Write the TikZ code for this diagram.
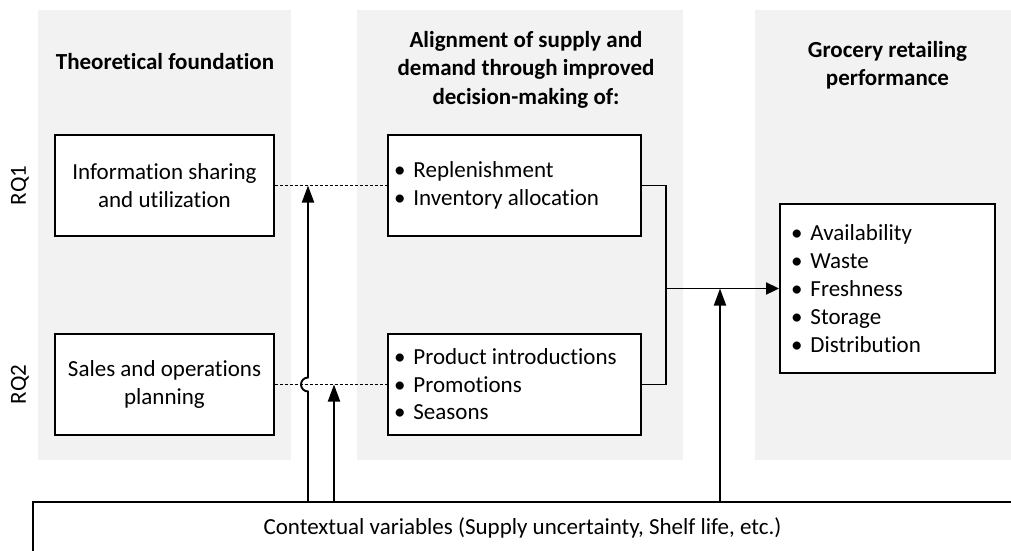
\documentclass[tikz,border=0pt]{standalone}
\usepackage{fontspec}
\setmainfont{Carlito}[Ligatures={NoCommon}]
\usetikzlibrary{arrows.meta,calc}
\definecolor{panelgray}{RGB}{242,242,242}
\newcommand{\bitem}{•\hspace{8pt}}
\begin{document}
\begin{tikzpicture}[x=1pt,y=-1pt,
  basefont/.style={font=\fontsize{23}{27.5}\selectfont},
  panel/.style={fill=panelgray, draw=none, minimum height=450pt, inner sep=0pt},
  heading/.style={font=\bfseries\fontsize{23}{28.5}\selectfont, align=center, inner sep=0pt},
  box/.style={draw=black, line width=1.9pt, fill=white, basefont, minimum height=101pt},
  conn/.style={line width=1.9pt, draw=black},
  dashconn/.style={line width=1.7pt, draw=black, dash pattern=on 3pt off 2pt},
  uparrow/.style={conn, -{Triangle[length=17pt,width=12pt]}},
  rarrow/.style={conn, -{Triangle[length=13pt,width=12pt]}},
  rq/.style={basefont, rotate=90, inner sep=0pt}
]
\useasboundingbox (0,0) rectangle (1011,550);
\clip (0,0) rectangle (1011,550);
\fill[white] (0,0) rectangle (1011,550);

% panels
\node[panel, minimum width=253pt] (p1) at (164.5,235) {};
\node[panel, minimum width=326pt] (p2) at (520,235) {};
\node[panel, minimum width=265pt] (p3) at (887.5,235) {};

% headings
\node[heading] (h1) at (165,62) {Theoretical foundation};
\node[heading] (h2) at (526,69.5) {Alignment of supply and\\demand through improved\\decision-making of:};
\node[heading] (h3) at (887.5,65) {Grocery retailing\\performance};

% RQ labels
\node[rq] (rq1) at (20,185.5) {RQ1};
\node[rq] (rq2) at (20,384.5) {RQ2};

% boxes
\node[box, minimum width=219pt, align=center] (info) at (164.5,185.5) {Information sharing\\and utilization};
\node[box, minimum width=219pt, align=center] (sop) at (164.5,384.5) {Sales and operations\\planning};
\node[box, text width=241pt, inner xsep=6pt, align=flush left] (repl) at (514.5,185.5) {\bitem Replenishment\\\bitem Inventory allocation};
\node[box, text width=241pt, inner xsep=6pt, align=flush left] (prod) at (514.5,384.5) {\bitem Product introductions\\\bitem Promotions\\\bitem Seasons};
\node[box, text width=193pt, inner xsep=11pt, minimum height=169pt, align=flush left, font=\fontsize{23}{28}\selectfont] (perf) at (887.5,288.5) {\bitem Availability\\\bitem Waste\\\bitem Freshness\\\bitem Storage\\\bitem Distribution};
\node[box, minimum width=979pt, minimum height=51pt] (ctx) at (522.5,527.5) {Contextual variables (Supply uncertainty, Shelf life, etc.)};

% column positions of the vertical arrows
\coordinate (xa) at (308,0);
\coordinate (xb) at (334,0);
\coordinate (xc) at (720,0);
\coordinate (xm) at (666,0);

% dashed links
\draw[dashconn] (info.east) -- (repl.west);
\draw[dashconn] (sop.east) -- (prod.west);

% merge to performance
\coordinate (m) at (xm |- perf.west);
\draw[conn] (repl.east) -| (m);
\draw[conn] (prod.east) -| (m);
\draw[rarrow] (m) -- (perf.west);

% contextual arrows
\coordinate (hopc) at (xa |- sop.east);
\draw[uparrow] (xa |- ctx.north) -- ($(hopc)+(0,7)$) arc[start angle=90, end angle=270, radius=7] -- (xa |- info.east);
\draw[uparrow] (xb |- ctx.north) -- (xb |- sop.east);
\draw[uparrow] (xc |- ctx.north) -- (xc |- perf.west);
\end{tikzpicture}
\end{document}
